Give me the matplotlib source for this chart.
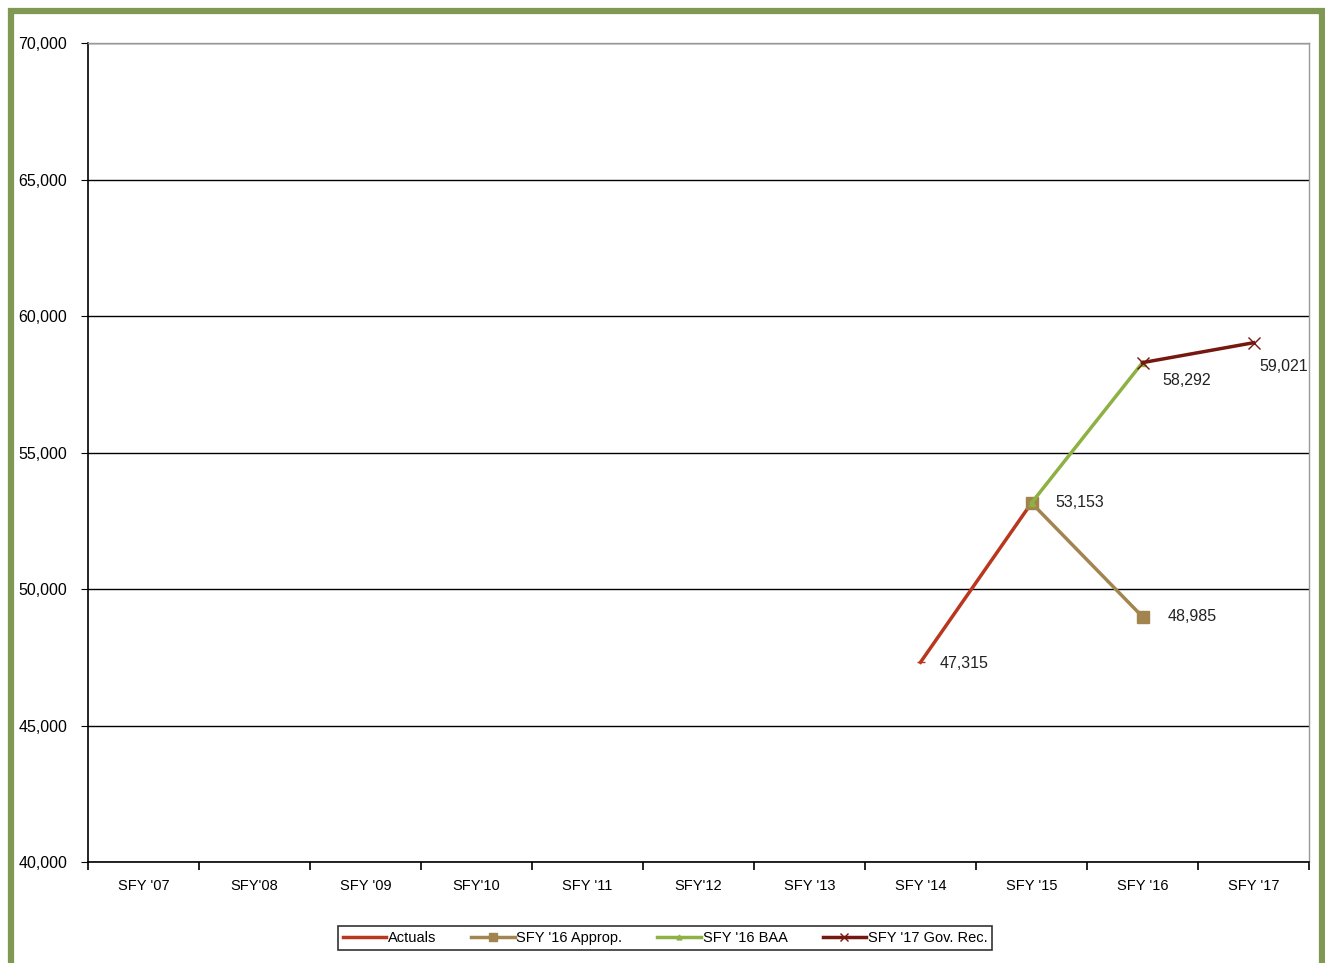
import matplotlib.pyplot as plt
from matplotlib.patches import Rectangle

plt.rcParams['font.family'] = ['Liberation Sans', 'DejaVu Sans']

categories = ["SFY '07", "SFY'08", "SFY '09", "SFY'10", "SFY '11", "SFY'12",
              "SFY '13", "SFY '14", "SFY '15", "SFY '16", "SFY '17"]

actuals_x = [7, 8]
actuals_y = [47315, 53153]
approp_x = [8, 9]
approp_y = [53153, 48985]
baa_x = [8, 9]
baa_y = [53153, 58292]
govrec_x = [9, 10]
govrec_y = [58292, 59021]

# data labels: (x index, value, offset in points)
labels = [
    (7, 47315, (14, -1)),
    (8, 53153, (17, 0)),
    (9, 48985, (18, 0)),
    (9, 58292, (14, -13)),
    (10, 59021, (4, -17)),
]

fig = plt.figure(figsize=(13.25, 9.63), dpi=100)
ax = fig.add_axes([88 / 1325, 1 - 862 / 963, (1309 - 88) / 1325, (862 - 43) / 963])

ax.plot(actuals_x, actuals_y, color='#B8371E', lw=2.5, marker='_', ms=6, label='Actuals')
ax.plot(approp_x, approp_y, color='#A2844F', lw=2.5, marker='s', ms=8, label="SFY '16 Approp.")
ax.plot(baa_x, baa_y, color='#8DB142', lw=2.5, marker='^', ms=5, label="SFY '16 BAA")
ax.plot(govrec_x, govrec_y, color='#75180F', lw=2.5, marker='x', ms=8, mew=1, label="SFY '17 Gov. Rec.")

for xi, v, off in labels:
    ax.annotate(f"{v:,}", (xi, v), xytext=off, textcoords='offset points',
                ha='left', va='center', fontsize=11.5, color='#222222')

ax.set_xlim(-0.5, 10.5)
ax.set_ylim(40000, 70000)
ax.set_yticks(range(40000, 70001, 5000))
ax.set_yticklabels([f"{v:,}" for v in range(40000, 70001, 5000)], fontsize=11.5)
ax.yaxis.grid(True, color='black', lw=1)
ax.set_axisbelow(True)

ax.set_xticks(range(len(categories)))
ax.set_xticklabels(categories, fontsize=10.5)
ax.tick_params(axis='x', length=0, pad=12)
ax.set_xticks([i - 0.5 for i in range(len(categories) + 1)], minor=True)
ax.tick_params(axis='x', which='minor', length=6, width=1.2, direction='out')
ax.tick_params(axis='y', length=5, direction='out', pad=10)

for s in ['left', 'bottom']:
    ax.spines[s].set_color('black')
    ax.spines[s].set_linewidth(1.2)
for s in ['top', 'right']:
    ax.spines[s].set_color('#999999')
    ax.spines[s].set_linewidth(1)

leg = fig.legend(loc='center', bbox_to_anchor=(665 / 1325, 1 - 938 / 963), ncol=4,
                 fontsize=10.5, frameon=True, fancybox=False, edgecolor='black',
                 handlelength=3, handletextpad=0.1, columnspacing=2.4,
                 borderpad=0.35, markerscale=0.7)
leg.get_frame().set_linewidth(1.2)

fig.patches.append(Rectangle((11 / 1325, -0.2), (1322 - 11) / 1325, 1.2 - 11 / 963,
                             transform=fig.transFigure, fill=False,
                             edgecolor='#7F9955', lw=4.5, zorder=10))

fig.savefig('out.png', dpi=100)
